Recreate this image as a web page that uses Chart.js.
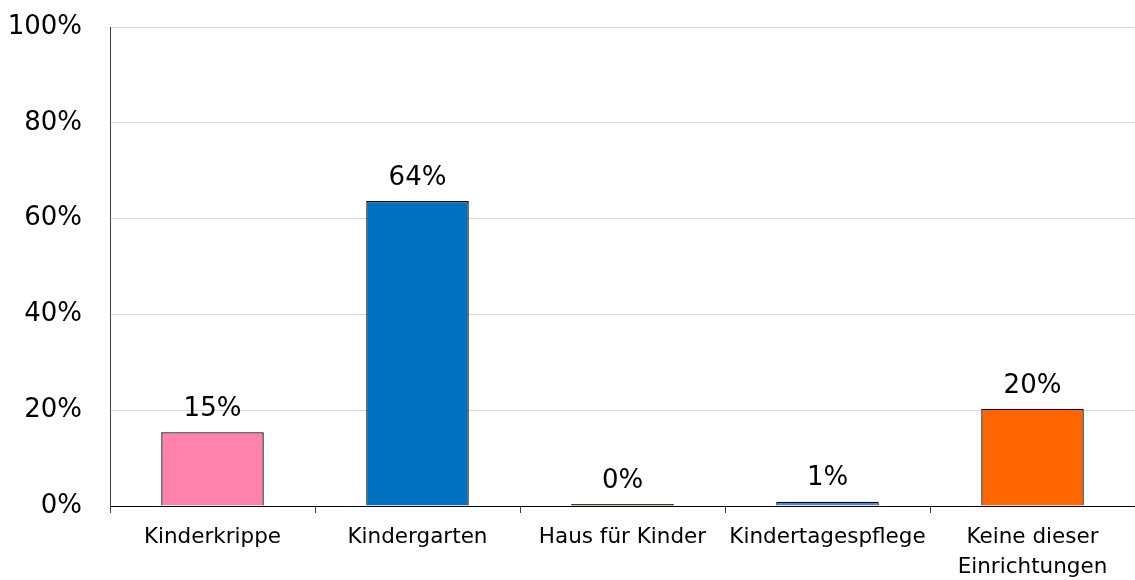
<!DOCTYPE html>
<html>
<head>
<meta charset="utf-8">
<script src="https://cdn.jsdelivr.net/npm/chart.js@4/dist/chart.umd.min.js"></script>
<style>
html,body{margin:0;padding:0;background:#fff;}
#wrap{width:1135px;height:580px;}
</style>
</head>
<body>
<div id="wrap"><canvas id="c" width="1135" height="580"></canvas></div>
<script>
const categories = ["Kinderkrippe", "Kindergarten", "Haus für Kinder", "Kindertagespflege", ["Keine dieser", "Einrichtungen"]];
const values = [15.4, 63.7, 0.4, 0.9, 20.3];
const barColors = ["#FF82AC", "#0070C0", "#4D3B00", "#4A8FD6", "#FF6600"];
const yTicks = [0, 20, 40, 60, 80, 100];

const FONT = "'DejaVu Sans', Verdana, sans-serif";

const labelPlugin = {
  id: 'valueLabels',
  afterDatasetsDraw(chart) {
    const ctx = chart.ctx;
    const meta = chart.getDatasetMeta(0);
    ctx.save();
    ctx.font = "26px " + FONT;
    ctx.fillStyle = "#000";
    ctx.textAlign = "center";
    ctx.textBaseline = "middle";
    meta.data.forEach((bar, i) => {
      ctx.fillText(Math.round(values[i]) + "%", bar.x, bar.y - 23);
    });
    ctx.restore();
  }
};

new Chart(document.getElementById('c'), {
  type: 'bar',
  data: {
    labels: categories,
    datasets: [{
      data: values,
      backgroundColor: barColors,
      borderColor: "#000",
      borderWidth: 1.3,
      barPercentage: 0.5,
      categoryPercentage: 1.0
    }]
  },
  options: {
    responsive: false,
    animation: false,
    layout: { autoPadding: false, padding: { top: 27, right: 0, bottom: 0, left: 0 } },
    plugins: { legend: { display: false }, tooltip: { enabled: false } },
    scales: {
      x: {
        grid: { display: true, drawOnChartArea: false, drawTicks: true, tickLength: 7, color: "#404040", offset: true },
        border: { display: true, color: "#000", width: 1 },
        ticks: { color: "#000", font: { family: FONT, size: 21.5, lineHeight: 1.4 }, padding: 9, maxRotation: 0, autoSkip: false },
        afterFit(scale) { scale.height = 74; scale.paddingLeft = 0; scale.paddingRight = 0; }
      },
      y: {
        min: 0, max: 100,
        afterBuildTicks(scale) { scale.ticks = yTicks.map(v => ({ value: v })); },
        grid: { color: "#D9D9D9", drawTicks: false },
        border: { display: true, color: "#404040", width: 1 },
        ticks: { color: "#000", font: { family: FONT, size: 26 }, padding: 28, callback: v => v + "%" },
        afterFit(scale) { scale.width = 110; scale.paddingTop = 0; scale.paddingBottom = 0; }
      }
    }
  },
  plugins: [labelPlugin]
});
</script>
</body>
</html>
